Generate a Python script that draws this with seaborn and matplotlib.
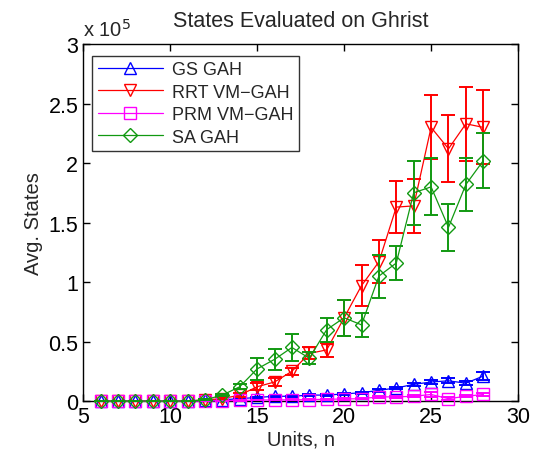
import numpy as np
import pandas as pd
import matplotlib
matplotlib.use("Agg")
import matplotlib.pyplot as plt
import seaborn as sns

# Units n
units = list(range(6, 29))

# Avg. states, in units of 1e5
gs_gah = [0, 0, 0, 0, 0, 0, 0.005,
          0.01, 0.02, 0.03, 0.04, 0.04, 0.05, 0.05, 0.06, 0.07, 0.09, 0.11, 0.14, 0.16, 0.17, 0.15, 0.21]
gs_err = [0, 0, 0, 0, 0, 0, 0,
          0, 0.005, 0.005, 0.005, 0.005, 0.005, 0.005, 0.01, 0.01, 0.01, 0.01, 0.01, 0.015, 0.02, 0.015, 0.03]

rrt_vm_gah = [0, 0, 0, 0, 0, 0, 0.01,
              0.02, 0.05, 0.12, 0.16, 0.25, 0.40, 0.43, 0.70, 0.97, 1.17, 1.63, 1.64, 2.30, 2.12, 2.33, 2.30]
rrt_err = [0, 0, 0, 0, 0, 0, 0.005,
           0.01, 0.02, 0.03, 0.03, 0.03, 0.05, 0.06, 0.15, 0.17, 0.18, 0.22, 0.23, 0.27, 0.28, 0.31, 0.31]

prm_vm_gah = [0, 0, 0, 0, 0, 0, 0,
              0.002, 0.005, 0.008, 0.01, 0.01, 0.012, 0.015, 0.017, 0.02, 0.035, 0.035, 0.04, 0.055, 0.02, 0.04, 0.055]
prm_err = [0, 0, 0, 0, 0, 0, 0,
           0, 0.002, 0.003, 0.004, 0.004, 0.005, 0.005, 0.006, 0.006, 0.008, 0.008, 0.01, 0.02, 0.01, 0.01, 0.01]

sa_gah = [0, 0, 0, 0, 0, 0, 0.01,
          0.05, 0.12, 0.27, 0.35, 0.45, 0.36, 0.60, 0.70, 0.64, 1.05, 1.16, 1.75, 1.80, 1.46, 1.82, 2.02]
sa_err = [0, 0, 0, 0, 0, 0, 0.005,
          0.01, 0.02, 0.09, 0.09, 0.11, 0.05, 0.10, 0.15, 0.10, 0.18, 0.14, 0.27, 0.24, 0.20, 0.22, 0.23]

series = ["GS GAH", "RRT VM\u2212GAH", "PRM VM\u2212GAH", "SA GAH"]
colors = ["#0000ff", "#ff0000", "#ff00ff", "#119911"]
markers = ["^", "v", "s", "D"]
msizes = [9, 9, 8, 7]

df = pd.DataFrame({
    "units": units * 4,
    "states": gs_gah + rrt_vm_gah + prm_vm_gah + sa_gah,
    "err": gs_err + rrt_err + prm_err + sa_err,
    "method": sum([[s] * len(units) for s in series], []),
})

sns.set_style("ticks")
plt.rcParams["font.family"] = ["Liberation Sans", "DejaVu Sans"]

fig = plt.figure(figsize=(5.33, 4.6), dpi=100)
ax = fig.add_axes([0.156, 0.126, 0.816, 0.776])

for s, c, m, ms in zip(series, colors, markers, msizes):
    d = df[df["method"] == s]
    ax.errorbar(d["units"], d["states"], yerr=d["err"], fmt="none",
                ecolor=c, elinewidth=1.4, capsize=5, capthick=1.4)
    sns.lineplot(data=d, x="units", y="states", ax=ax, color=c, marker=m,
                 markersize=ms, markerfacecolor="none", markeredgecolor=c,
                 markeredgewidth=1.0, linewidth=0.9, label=s, clip_on=False)

ax.set_xlim(5, 30)
ax.set_ylim(0, 3)
ax.set_xticks([5, 10, 15, 20, 25, 30])
ax.set_yticks([0, 0.5, 1, 1.5, 2, 2.5, 3])
ax.set_yticklabels(["0", "0.5", "1", "1.5", "2", "2.5", "3"])
ax.tick_params(direction="in", length=5, width=1, labelsize=15.5,
               top=True, right=True, colors="black")
for sp in ax.spines.values():
    sp.set_visible(True)
    sp.set_color("black")
    sp.set_linewidth(1.0)
    sp.set_zorder(1)

ax.set_xlabel("Units, n", fontsize=14.5, labelpad=2)
ax.set_ylabel("Avg. States", fontsize=14.5, labelpad=4)
ax.set_title("States Evaluated on Ghrist", fontsize=15.5, pad=13)
ax.text(0.0, 1.012, "x 10$^{5}$", transform=ax.transAxes, fontsize=14.5,
        ha="left", va="bottom")

leg = ax.legend(loc="upper left", bbox_to_anchor=(0.021, 0.967), borderaxespad=0,
                fontsize=13, frameon=True, fancybox=False, handlelength=3.6,
                borderpad=0.3, labelspacing=0.3, handletextpad=0.5)
leg.get_frame().set_edgecolor("black")
leg.get_frame().set_linewidth(1.0)

fig.savefig("out.png", dpi=100)
